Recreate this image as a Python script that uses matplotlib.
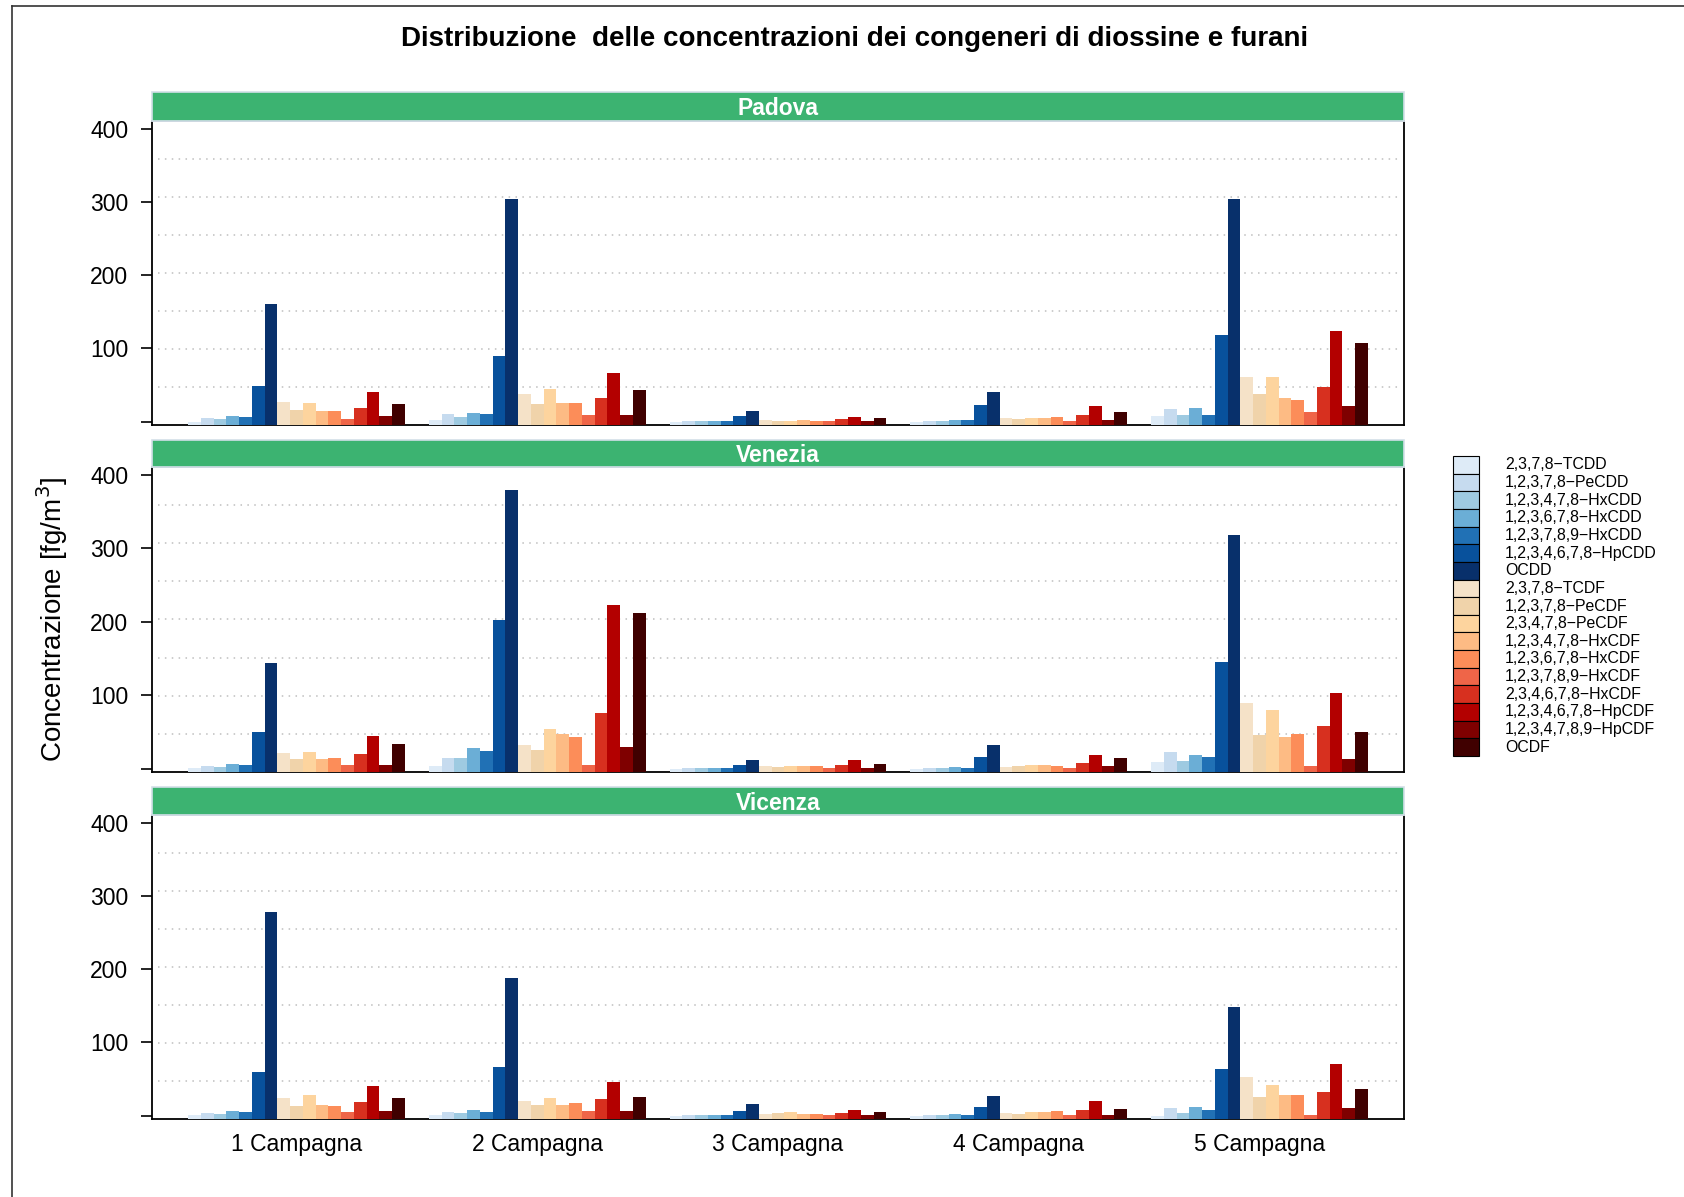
import matplotlib
matplotlib.use("Agg")
import matplotlib.pyplot as plt
import numpy as np
from matplotlib.patches import Rectangle
from matplotlib.lines import Line2D

plt.rcParams['font.family'] = ['Liberation Sans', 'DejaVu Sans']

campagne = ["1 Campagna", "2 Campagna", "3 Campagna", "4 Campagna", "5 Campagna"]

congeneri = [
    "2,3,7,8\u2212TCDD", "1,2,3,7,8\u2212PeCDD", "1,2,3,4,7,8\u2212HxCDD",
    "1,2,3,6,7,8\u2212HxCDD", "1,2,3,7,8,9\u2212HxCDD", "1,2,3,4,6,7,8\u2212HpCDD",
    "OCDD",
    "2,3,7,8\u2212TCDF", "1,2,3,7,8\u2212PeCDF", "2,3,4,7,8\u2212PeCDF",
    "1,2,3,4,7,8\u2212HxCDF", "1,2,3,6,7,8\u2212HxCDF", "1,2,3,7,8,9\u2212HxCDF",
    "2,3,4,6,7,8\u2212HxCDF", "1,2,3,4,6,7,8\u2212HpCDF", "1,2,3,4,7,8,9\u2212HpCDF",
    "OCDF",
]

colori = [
    "#DEEBF7", "#C6DBEF", "#9ECAE1", "#6BAED6", "#2171B5", "#08519C", "#08306B",
    "#F5E2C8", "#F0D3AA", "#FDD49E", "#FDBB84", "#FC8D59", "#EF6548", "#D7301F",
    "#B30000", "#7F0000", "#400000",
]

stazioni = ["Padova", "Venezia", "Vicenza"]

# concentrations [fg/m3], one row per campaign, one column per congener
padova = [
    [0.0, 5.0, 3.6, 7.7, 6.4, 48.6, 160.5, 26.8, 15.9, 25.5, 14.5, 14.5, 3.6, 18.6, 40.5, 7.7, 24.1],
    [2.3, 10.5, 6.4, 11.8, 10.5, 89.5, 303.6, 37.7, 24.1, 44.5, 25.5, 25.5, 9.1, 32.3, 66.4, 9.1, 43.2],
    [0.0, 0.9, 0.9, 0.9, 0.9, 7.7, 14.5, 2.3, 0.9, 0.9, 2.3, 0.9, 0.9, 3.6, 6.4, 0.9, 5.0],
    [0.0, 0.9, 0.9, 2.3, 2.3, 22.7, 40.5, 5.0, 3.6, 5.0, 5.0, 6.4, 0.9, 9.1, 21.4, 2.3, 13.2],
    [7.7, 17.3, 9.1, 18.6, 9.1, 118.2, 303.6, 60.9, 37.7, 60.9, 32.3, 29.5, 13.2, 47.3, 123.6, 21.4, 107.3],
]

venezia = [
    [0.9, 3.6, 2.3, 6.4, 5.0, 50.0, 144.1, 21.4, 13.2, 22.7, 13.2, 14.5, 5.0, 20.0, 44.5, 5.0, 33.6],
    [3.6, 14.5, 14.5, 28.2, 24.1, 202.7, 378.6, 32.3, 25.5, 54.1, 47.3, 43.2, 5.0, 75.9, 223.2, 29.5, 212.3],
    [0.0, 0.9, 0.9, 0.9, 0.9, 5.0, 11.8, 3.6, 2.3, 3.6, 3.6, 3.6, 0.9, 5.0, 11.8, 0.9, 6.4],
    [0.0, 0.9, 0.9, 2.3, 0.9, 15.9, 32.3, 2.3, 3.6, 5.0, 5.0, 3.6, 0.9, 7.7, 18.6, 3.6, 14.5],
    [9.1, 22.7, 10.5, 18.6, 15.9, 145.5, 318.6, 89.5, 45.9, 80.0, 43.2, 47.3, 3.6, 58.2, 103.2, 13.2, 50.0],
]

vicenza = [
    [1.4, 4.1, 2.7, 6.8, 5.5, 60.0, 278.2, 24.5, 13.6, 28.6, 15.0, 13.6, 5.5, 19.1, 40.9, 6.8, 24.5],
    [1.4, 5.5, 4.1, 8.2, 5.5, 66.8, 188.2, 20.5, 15.0, 24.5, 15.0, 17.7, 6.8, 23.2, 46.4, 6.8, 25.9],
    [0.0, 1.4, 1.4, 1.4, 1.4, 6.8, 16.4, 2.7, 4.1, 5.5, 2.7, 2.7, 1.4, 4.1, 8.2, 1.4, 5.5],
    [0.0, 1.4, 1.4, 2.7, 1.4, 12.3, 27.3, 4.1, 2.7, 5.5, 5.5, 6.8, 1.4, 8.2, 20.5, 1.4, 9.5],
    [0.0, 10.9, 4.1, 12.3, 8.2, 64.1, 148.6, 53.2, 25.9, 42.3, 28.6, 28.6, 1.4, 32.7, 70.9, 10.9, 36.8],
]

yticks = [0, 100, 200, 300, 400]
ytick_labels = ["", "100", "200", "300", "400"]

dati = {"Padova": padova, "Venezia": venezia, "Vicenza": vicenza}

W, H = 1684, 1197
fig = plt.figure(figsize=(W / 100, H / 100), dpi=100)

YLO, YHI = -4.5, 410.5
XLO, XHI = 0.4, 5.6
group_w = 0.9
n_cong = len(congeneri)
bar_w = group_w / n_cong

# panel boxes in pixels: (top, bottom, strip_top)
left_px, right_px = 152, 1404
panels_px = [(121, 425, 92), (467, 772, 440), (815, 1119, 787)]

STRIP_GREEN = "#3CB371"

for i, staz in enumerate(stazioni):
    top, bot, strip_top = panels_px[i]
    ax = fig.add_axes([left_px / W, 1 - bot / H, (right_px - left_px) / W, (bot - top) / H])
    ax.set_xlim(XLO, XHI)
    ax.set_ylim(YLO, YHI)

    vals = np.array(dati[staz])
    centers = np.arange(1, len(campagne) + 1)
    for j in range(n_cong):
        xs = centers - group_w / 2 + (j + 0.5) * bar_w
        ax.bar(xs, vals[:, j] - YLO, bottom=YLO, width=bar_w, color=colori[j],
               linewidth=0, zorder=3)

    # dotted horizontal guides, evenly splitting the panel
    for k in range(1, 8):
        yk = YLO + k * (YHI - YLO) / 8
        ax.axhline(yk, xmin=0.005, xmax=0.997, color="#BEBEBE", lw=1.1,
                   linestyle=(0, (1, 3.5)), zorder=1)

    ax.set_yticks(yticks)
    ax.set_yticklabels(ytick_labels, fontsize=16.5)
    ax.tick_params(axis="y", length=8, width=1.2, pad=9, direction="out", left=True, right=False)
    ax.set_xticks(centers)
    if i == len(stazioni) - 1:
        ax.set_xticklabels(campagne, fontsize=16.5)
        ax.tick_params(axis="x", length=0, pad=10)
    else:
        ax.set_xticklabels([])
        ax.tick_params(axis="x", length=0)

    for s in ("left", "bottom", "right"):
        ax.spines[s].set_color("black")
        ax.spines[s].set_linewidth(1.3)
    ax.spines["top"].set_color("#A9B4BA")
    ax.spines["top"].set_linewidth(1.3)

    # strip with the station name
    hfrac = (top - strip_top) / (bot - top)
    strip = Rectangle((0, 1), 1, hfrac, transform=ax.transAxes, facecolor=STRIP_GREEN,
                      edgecolor="#D3DFE8", linewidth=1.2, clip_on=False, zorder=5)
    ax.add_patch(strip)
    ax.text(0.5, 1 + hfrac / 2 - 2.0 / (bot - top), staz, transform=ax.transAxes,
            ha="center", va="center", color="white", fontsize=16.5, fontweight="bold", zorder=6)

# title
fig.text(855 / W, 1 - 38.5 / H, "Distribuzione  delle concentrazioni dei congeneri di diossine e furani",
         ha="center", va="center", fontsize=20, fontweight="bold")

# y label
fig.text(52 / W, 1 - 620 / H, "Concentrazione [fg/m$^3$]", rotation=90,
         ha="center", va="center", fontsize=20)

# legend: stacked colour keys with labels
box_l, box_r = 1453, 1479
leg_top, leg_bot = 456, 756
step = (leg_bot - leg_top) / n_cong
for j, (lab, col) in enumerate(zip(congeneri, colori)):
    y0 = leg_top + j * step
    fig.patches.append(Rectangle((box_l / W, 1 - (y0 + step) / H), (box_r - box_l) / W, step / H,
                                 transform=fig.transFigure, facecolor=col, edgecolor="black",
                                 linewidth=0.8, figure=fig))
    fig.text(1505 / W, 1 - (y0 + step / 2) / H, lab, ha="left", va="center", fontsize=11.4)

# outer frame
fig.add_artist(Line2D([12 / W, 1], [1 - 6 / H, 1 - 6 / H], transform=fig.transFigure,
                      color="#333333", lw=1.2))
fig.add_artist(Line2D([12 / W, 12 / W], [1 - 6 / H, 0], transform=fig.transFigure,
                      color="#333333", lw=1.2))

fig.savefig("out.png", dpi=100)
